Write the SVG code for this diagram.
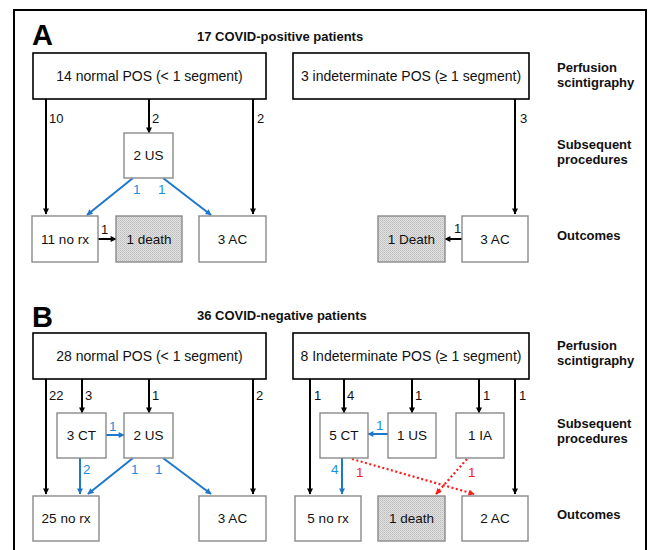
<svg xmlns="http://www.w3.org/2000/svg" width="651" height="550" viewBox="0 0 651 550">
<defs>
<pattern id="dots" width="2" height="2" patternUnits="userSpaceOnUse">
<rect width="2" height="2" fill="#e2e2e2"/>
<rect width="1" height="1" fill="#bdbdbd"/>
<rect x="1" y="1" width="1" height="1" fill="#c9c9c9"/>
</pattern>
<marker id="ak" viewBox="0 0 10 10" refX="9" refY="5" markerWidth="7" markerHeight="6" orient="auto" markerUnits="userSpaceOnUse">
<path d="M0,0 L10,5 L0,10 z" fill="#000"/>
</marker>
<marker id="ab" viewBox="0 0 10 10" refX="9" refY="5" markerWidth="7" markerHeight="6" orient="auto" markerUnits="userSpaceOnUse">
<path d="M0,0 L10,5 L0,10 z" fill="#1f77cc"/>
</marker>
<marker id="ar" viewBox="0 0 10 10" refX="9" refY="5" markerWidth="7" markerHeight="6" orient="auto" markerUnits="userSpaceOnUse">
<path d="M0,0 L10,5 L0,10 z" fill="#ff1a1a"/>
</marker>
<style>
.big{fill:#fff;stroke:#000;stroke-width:1.6}
.box{fill:#fff;stroke:#8a8a8a;stroke-width:1.4}
.gray{fill:url(#dots);stroke:#8a8a8a;stroke-width:1.4}
.bt{font-family:"Liberation Sans",Arial,sans-serif;font-size:14px;fill:#111;text-anchor:middle}
.t{font-family:"Liberation Sans",Arial,sans-serif;font-size:13.5px;fill:#111;text-anchor:middle}
.h{font-family:"Liberation Sans",Arial,sans-serif;font-size:13px;font-weight:bold;fill:#111}
.L{font-family:"Liberation Sans",Arial,sans-serif;font-size:29px;font-weight:bold;fill:#000}
.n{font-family:"Liberation Sans",Arial,sans-serif;font-size:13px;fill:#111}
.nb{font-family:"Liberation Sans",Arial,sans-serif;font-size:13.5px;fill:#1a8fe0}
.nr{font-family:"Liberation Sans",Arial,sans-serif;font-size:13.5px;fill:#ff2020}
.ka{stroke:#000;stroke-width:2;fill:none;marker-end:url(#ak)}
.ba{stroke:#1f77cc;stroke-width:2;fill:none;marker-end:url(#ab)}
.ra{stroke:#ff1a1a;stroke-width:2.2;stroke-dasharray:2 2.5;fill:none;marker-end:url(#ar)}
</style>
</defs>
<rect width="651" height="550" fill="#fff"/>
<path d="M14,560 L14,10 L646,10 L646,560" fill="none" stroke="#000" stroke-width="2"/>

<!-- headings -->
<text class="L" x="32" y="45">A</text>
<text class="h" x="197" y="41">17 COVID-positive patients</text>
<text class="L" x="32" y="327">B</text>
<text class="h" x="197" y="320">36 COVID-negative patients</text>
<text class="h" x="557" y="72">Perfusion</text>
<text class="h" x="557" y="87">scintigraphy</text>
<text class="h" x="557" y="149">Subsequent</text>
<text class="h" x="557" y="164">procedures</text>
<text class="h" x="557" y="240">Outcomes</text>
<text class="h" x="557" y="350">Perfusion</text>
<text class="h" x="557" y="365">scintigraphy</text>
<text class="h" x="557" y="428">Subsequent</text>
<text class="h" x="557" y="443">procedures</text>
<text class="h" x="557" y="519">Outcomes</text>

<!-- connectors -->
<g id="connectors">
<line class="ka" x1="46" y1="99" x2="46" y2="214"/>
<line class="ka" x1="149" y1="99" x2="149" y2="133"/>
<line class="ka" x1="253" y1="99" x2="253" y2="214"/>
<line class="ba" x1="133" y1="178" x2="87" y2="215"/>
<line class="ba" x1="163" y1="178" x2="211" y2="215"/>
<line class="ka" x1="98" y1="239" x2="116" y2="239"/>
<line class="ka" x1="515" y1="99" x2="515" y2="214"/>
<line class="ka" x1="462" y1="239" x2="445" y2="239"/>

<line class="ka" x1="46" y1="379" x2="46" y2="494"/>
<line class="ka" x1="82" y1="379" x2="82" y2="413"/>
<line class="ka" x1="149" y1="379" x2="149" y2="413"/>
<line class="ka" x1="253" y1="379" x2="253" y2="494"/>
<line class="ba" x1="106" y1="435" x2="124" y2="435"/>
<line class="ba" x1="80" y1="458" x2="80" y2="494"/>
<line class="ba" x1="133" y1="458" x2="88" y2="494"/>
<line class="ba" x1="163" y1="458" x2="211" y2="494"/>

<line class="ka" x1="310" y1="379" x2="310" y2="494"/>
<line class="ka" x1="344" y1="379" x2="344" y2="413"/>
<line class="ka" x1="412" y1="379" x2="412" y2="413"/>
<line class="ka" x1="479" y1="379" x2="479" y2="413"/>
<line class="ka" x1="515" y1="379" x2="515" y2="494"/>
<line class="ba" x1="388" y1="434" x2="368" y2="434"/>
<line class="ba" x1="342" y1="458" x2="342" y2="494"/>
<line class="ra" x1="352" y1="459" x2="474" y2="494"/>
<line class="ra" x1="467" y1="459" x2="436" y2="494"/>
</g>

<!-- edge labels -->
<text class="n" x="49" y="123">10</text>
<text class="n" x="152" y="123">2</text>
<text class="n" x="257" y="123">2</text>
<text class="n" x="520" y="123">3</text>
<text class="nb" x="133" y="194">1</text>
<text class="nb" x="158" y="194">1</text>
<text class="n" x="101" y="234">1</text>
<text class="n" x="454" y="233">1</text>

<text class="n" x="49" y="400">22</text>
<text class="n" x="85" y="400">3</text>
<text class="n" x="152" y="400">1</text>
<text class="n" x="256" y="400">2</text>
<text class="n" x="314" y="400">1</text>
<text class="n" x="347" y="400">4</text>
<text class="n" x="415" y="400">1</text>
<text class="n" x="483" y="400">1</text>
<text class="n" x="519" y="400">1</text>
<text class="nb" x="109" y="431">1</text>
<text class="nb" x="83" y="474">2</text>
<text class="nb" x="131" y="474">1</text>
<text class="nb" x="155" y="474">1</text>
<text class="nb" x="376" y="430">1</text>
<text class="nb" x="331" y="474">4</text>
<text class="nr" x="356" y="477">1</text>
<text class="nr" x="468" y="477">1</text>

<!-- A nodes -->
<g id="a_normal"><rect class="big" x="33" y="53" width="233" height="46"/><text class="bt" x="149.5" y="81">14 normal POS (&lt; 1 segment)</text></g>
<g id="a_indet"><rect class="big" x="293" y="53" width="236" height="46"/><text class="bt" x="411" y="81">3 indeterminate POS (≥ 1 segment)</text></g>
<g id="a_us"><rect class="box" x="124" y="133" width="49" height="45"/><text class="t" x="148.5" y="160">2 US</text></g>
<g id="a_norx"><rect class="box" x="32" y="216" width="66" height="46"/><text class="t" x="65" y="244">11 no rx</text></g>
<g id="a_death"><rect class="gray" x="116" y="216" width="66" height="46"/><text class="t" x="149" y="244">1 death</text></g>
<g id="a_ac"><rect class="box" x="199" y="216" width="67" height="46"/><text class="t" x="232.5" y="244">3 AC</text></g>
<g id="a_death2"><rect class="gray" x="378" y="216" width="67" height="46"/><text class="t" x="411.5" y="244">1 Death</text></g>
<g id="a_ac2"><rect class="box" x="462" y="216" width="66" height="46"/><text class="t" x="495" y="244">3 AC</text></g>

<!-- B nodes -->
<g id="b_normal"><rect class="big" x="33" y="333" width="233" height="46"/><text class="bt" x="149.5" y="361">28 normal POS (&lt; 1 segment)</text></g>
<g id="b_indet"><rect class="big" x="293" y="333" width="236" height="46"/><text class="bt" x="411" y="361">8 Indeterminate POS (≥ 1 segment)</text></g>
<g id="b_ct"><rect class="box" x="57" y="413" width="49" height="45"/><text class="t" x="81.5" y="440">3 CT</text></g>
<g id="b_us"><rect class="box" x="124" y="413" width="49" height="45"/><text class="t" x="148.5" y="440">2 US</text></g>
<g id="b_norx"><rect class="box" x="33" y="496" width="66" height="45"/><text class="t" x="66" y="523">25 no rx</text></g>
<g id="b_ac"><rect class="box" x="199" y="496" width="67" height="45"/><text class="t" x="232.5" y="523">3 AC</text></g>
<g id="b_ct2"><rect class="box" x="320" y="413" width="48" height="45"/><text class="t" x="344" y="440">5 CT</text></g>
<g id="b_us2"><rect class="box" x="388" y="413" width="48" height="45"/><text class="t" x="412" y="440">1 US</text></g>
<g id="b_ia"><rect class="box" x="456" y="413" width="48" height="45"/><text class="t" x="480" y="440">1 IA</text></g>
<g id="b_norx2"><rect class="box" x="295" y="496" width="66" height="45"/><text class="t" x="328" y="523">5 no rx</text></g>
<g id="b_death"><rect class="gray" x="378" y="496" width="67" height="45"/><text class="t" x="411.5" y="523">1 death</text></g>
<g id="b_ac2"><rect class="box" x="462" y="496" width="66" height="45"/><text class="t" x="495" y="523">2 AC</text></g>
</svg>
